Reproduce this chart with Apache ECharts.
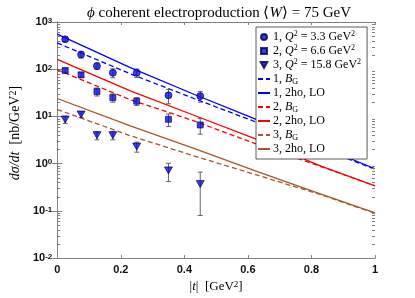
<!DOCTYPE html>
<html><head><meta charset="utf-8">
<script src="https://cdn.jsdelivr.net/npm/echarts@6/dist/echarts.min.js"></script>
<style>html,body{margin:0;padding:0;background:#fff}#c{width:415px;height:298px}</style>
</head><body><div id="c"></div>
<script>
// ---- data ----
const tData = [0.025, 0.075, 0.125, 0.175, 0.25, 0.35, 0.45];
const s1 = [430, 205, 117, 84, 84, 28, 27];
const s1err = [45, 33, 18, 18, 17, 9.5, 7];
const s2 = [94, 76, 33.6, 25, 21, 8.7, 6.6];
const s2err = [8, 8, 6.5, 5, 4, 2.6, 2.4];
const s3 = [8.6, 11, 4.0, 4.0, 2.3, 0.72, 0.37];
const s3err = [1.5, 1.5, 0.8, 0.8, 0.55, 0.3, 0.29];
const tCurve = [0, 0.23, 0.43, 0.63, 0.83, 1.0];
const blueBG = [360, 80, 24, 7.4, 2.1, 0.76];
const blueLO = [552, 108, 29.5, 8.5, 2.3, 0.78];
const redBG = [97, 22.6, 8.07, 2.55, 0.87, 0.34];
const redLO = [161, 34.7, 10.6, 3.24, 0.89, 0.34];
const brownBG = [14, 3.9, 1.46, 0.57, 0.22, 0.089];
const brownLO = [24, 6.3, 2.1, 0.68, 0.226, 0.091];
const xTicks = [0, 0.2, 0.4, 0.6, 0.8, 1];
const yMinorTicks = [];
for (let e = -2; e < 3; e++) for (let m = 2; m <= 9; m++) yMinorTicks.push(+(m * Math.pow(10, e)).toPrecision(3));
const legendTexts = {
  d1: '1, {i|Q}{sup|2} = 3.3 GeV{sup|2}',
  d2: '2, {i|Q}{sup|2} = 6.6 GeV{sup|2}',
  d3: '3, {i|Q}{sup|2} = 15.8 GeV{sup|2}',
  b1: '1, {i|B}{sub|G}', l1: '1, 2ho, LO',
  b2: '2, {i|B}{sub|G}', l2: '2, 2ho, LO',
  b3: '3, {i|B}{sub|G}', l3: '3, 2ho, LO'
};

const BLUE = '#0000ff', RED = '#ff0000', BROWN = '#a8562a';
const SERIF = 'Liberation Serif';
const SANS = 'Liberation Sans';
const AX = '#808080';
const richSerif = (size) => ({
  i: { fontFamily: SERIF, fontStyle: 'italic', fontSize: size, color: '#000' },
  sup: { fontFamily: SERIF, fontSize: Math.round(size * 0.7), verticalAlign: 'top', color: '#000' },
  sub: { fontFamily: SERIF, fontSize: Math.round(size * 0.7), verticalAlign: 'bottom', color: '#000' }
});

const chart = echarts.init(document.getElementById('c'), null, { renderer: 'canvas' });

function pairs(xs, ys) { return xs.map((x, i) => [x, ys[i]]); }
function errSeries(vals, errs) {
  return {
    type: 'custom', silent: true, z: 3,
    data: tData.map((t, i) => [t, vals[i] - errs[i], vals[i] + errs[i]]),
    encode: { x: 0, y: [1, 2] },
    renderItem(params, api) {
      const x = api.value(0);
      const p1 = api.coord([x, api.value(2)]);
      const p2 = api.coord([x, api.value(1)]);
      const w = 2.5, st = { stroke: '#555', lineWidth: 0.9 };
      return {
        type: 'group', children: [
          { type: 'line', shape: { x1: p1[0], y1: p1[1], x2: p2[0], y2: p2[1] }, style: st },
          { type: 'line', shape: { x1: p1[0] - w, y1: p1[1], x2: p1[0] + w, y2: p1[1] }, style: st },
          { type: 'line', shape: { x1: p2[0] - w, y1: p2[1], x2: p2[0] + w, y2: p2[1] }, style: st }
        ]
      };
    }
  };
}
const minorTickSeries = {
  type: 'custom', silent: true, z: 5, clip: false,
  data: yMinorTicks.map(v => [0.5, v]),
  encode: { x: 0, y: 1 },
  renderItem(params, api) {
    const cs = params.coordSys;
    const y = Math.round(api.coord([0.5, api.value(1)])[1]) + 0.5;
    const st = { stroke: AX, lineWidth: 1 };
    return {
      type: 'group', children: [
        { type: 'line', shape: { x1: cs.x, y1: y, x2: cs.x + 3, y2: y }, style: st },
        { type: 'line', shape: { x1: cs.x + cs.width - 3, y1: y, x2: cs.x + cs.width, y2: y }, style: st }
      ]
    };
  }
};
const markerStyle = { color: '#0a0af0', borderColor: '#00004a', borderWidth: 0.8 };
const TRI = 'path://M0 0 L10 0 L5 9 Z';
const SQ = 'path://M0 0 H10 V10 H0 Z';
function lineS(name, xs, ys, color, dashed) {
  return {
    name, type: 'line', data: pairs(xs, ys), symbol: 'none', z: 2,
    lineStyle: { color, width: 1.3, type: dashed ? [5, 3] : 'solid' },
    itemStyle: { color }
  };
}
const hideSym = { opacity: 0 };

chart.setOption({
  animation: false,
  title: {
    text: '{i|ϕ} coherent electroproduction ⟨{i|W}⟩ = 75 GeV',
    left: 214, top: 1, textAlign: 'center',
    textStyle: { fontFamily: SERIF, fontSize: 15, fontWeight: 'normal', color: '#000', rich: richSerif(15) }
  },
  grid: { left: 53, right: 40, top: 22, bottom: 33 },
  xAxis: [
    {
      type: 'value', min: 0, max: 1, interval: 0.2, position: 'bottom',
      axisLine: { show: true, lineStyle: { color: AX, width: 1 } },
      axisTick: { show: true, inside: true, length: 3, lineStyle: { color: AX } },
      splitLine: { show: false },
      axisLabel: { color: '#111', fontFamily: SANS, fontSize: 11, fontWeight: 'bold', margin: 6,
        formatter: v => String(+v.toFixed(1)) },
      name: '|{i|t}|  [GeV{sup|2}]', nameLocation: 'middle', nameGap: 19,
      nameTextStyle: { fontFamily: SERIF, fontSize: 13, color: '#000', rich: richSerif(13) }
    },
    {
      type: 'value', min: 0, max: 1, interval: 0.2, position: 'top',
      axisLine: { show: true, lineStyle: { color: AX, width: 1 } },
      axisTick: { show: true, inside: true, length: 3, lineStyle: { color: AX } },
      axisLabel: { show: false }, splitLine: { show: false }
    }
  ],
  yAxis: [
    {
      type: 'log', logBase: 10, min: 0.01, max: 1000, position: 'left',
      axisLine: { show: true, lineStyle: { color: AX, width: 1 } },
      axisTick: { show: true, inside: true, length: 5, lineStyle: { color: AX } },
      splitLine: { show: false },
      axisLabel: {
        color: '#111', fontFamily: SANS, fontSize: 11, fontWeight: 'bold', margin: 5,
        formatter: v => '10{s|' + Math.round(Math.log10(v)) + '}',
        rich: { s: { fontFamily: SANS, fontSize: 8, fontWeight: 'bold', verticalAlign: 'top', color: '#111' } }
      },
      name: '{i|dσ/dt}  [nb/GeV{sup|2}]', nameLocation: 'middle', nameRotate: 90, nameGap: 31,
      nameTextStyle: { fontFamily: SERIF, fontSize: 14, color: '#000', padding: [0, 0, 0, 14], rich: richSerif(14) }
    },
    {
      type: 'log', logBase: 10, min: 0.01, max: 1000, position: 'right',
      axisLine: { show: true, lineStyle: { color: AX, width: 1 } },
      axisTick: { show: true, inside: true, length: 5, lineStyle: { color: AX } },
      axisLabel: { show: false }, splitLine: { show: false }
    }
  ],
  legend: {
    orient: 'vertical', left: 256, top: 27, z: 10,
    data: [
      { name: 'd1', icon: 'circle' }, { name: 'd2', icon: SQ }, { name: 'd3', icon: TRI },
      { name: 'b1', itemStyle: hideSym }, { name: 'l1', itemStyle: hideSym },
      { name: 'b2', itemStyle: hideSym }, { name: 'l2', itemStyle: hideSym },
      { name: 'b3', itemStyle: hideSym }, { name: 'l3', itemStyle: hideSym }
    ],
    itemWidth: 12, itemHeight: 6, itemGap: 0,
    padding: [3, 6, 3, 1],
    backgroundColor: '#fff', borderColor: '#333', borderWidth: 0.8, borderRadius: 0,
    formatter: n => legendTexts[n],
    textStyle: { fontFamily: SERIF, fontSize: 12, color: '#000', lineHeight: 14, padding: [0, 0, 0, -2], rich: richSerif(12) }
  },
  series: [
    minorTickSeries,
    lineS('b1', tCurve, blueBG, BLUE, true),
    lineS('l1', tCurve, blueLO, BLUE, false),
    lineS('b2', tCurve, redBG, RED, true),
    lineS('l2', tCurve, redLO, RED, false),
    lineS('b3', tCurve, brownBG, BROWN, true),
    lineS('l3', tCurve, brownLO, BROWN, false),
    errSeries(s1, s1err), errSeries(s2, s2err), errSeries(s3, s3err),
    { name: 'd1', type: 'scatter', z: 4, symbol: 'circle', symbolSize: 7, data: pairs(tData, s1), itemStyle: markerStyle },
    { name: 'd2', type: 'scatter', z: 4, symbol: SQ, symbolSize: 6, data: pairs(tData, s2), itemStyle: markerStyle },
    { name: 'd3', type: 'scatter', z: 4, symbol: TRI, symbolSize: [8, 7], data: pairs(tData, s3), itemStyle: markerStyle }
  ]
});
</script></body></html>
